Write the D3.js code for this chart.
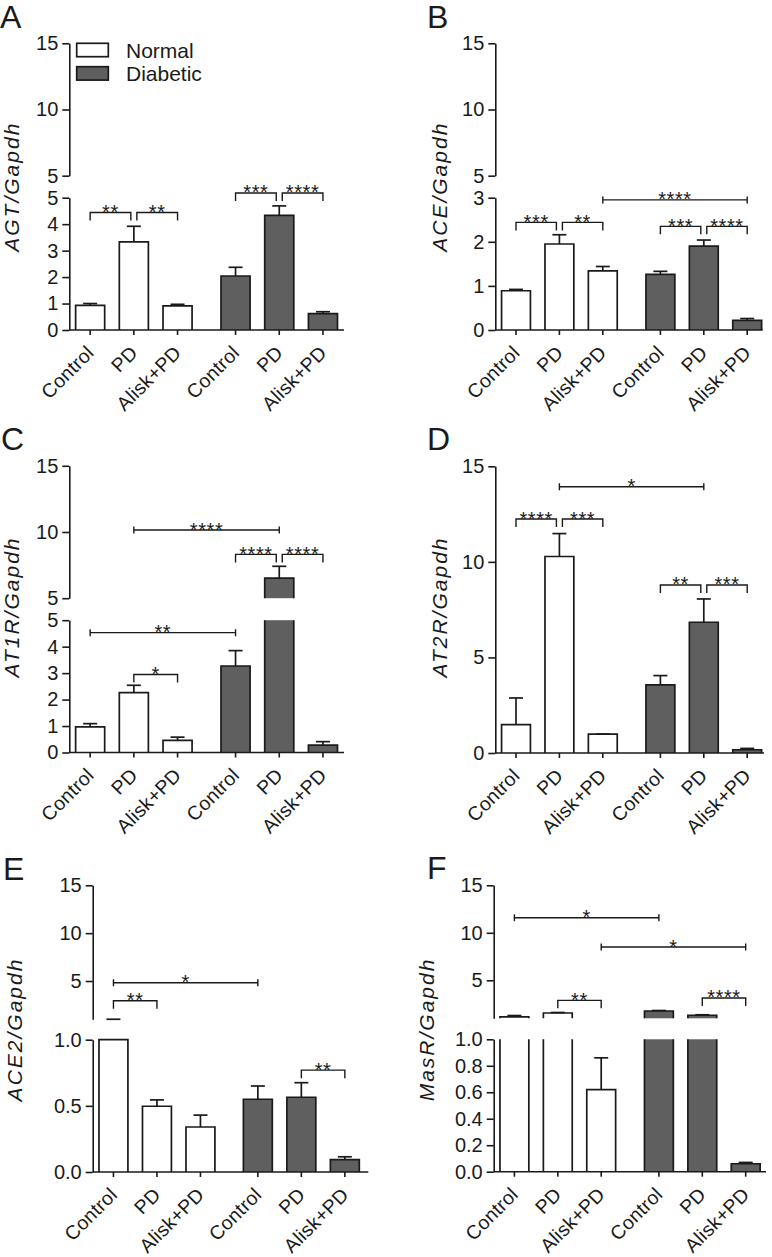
<!DOCTYPE html>
<html>
<head>
<meta charset="utf-8">
<script src="https://cdn.jsdelivr.net/npm/d3@7"></script>
<style>
  body { margin: 0; background: #fff; }
  text { font-family: Arial, "Liberation Sans", sans-serif; fill: #1a1a1a; }
</style>
</head>
<body>
<script>
const groups = ["Normal", "Diabetic"]
const treatments = ["Control", "PD", "Alisk+PD"]

// bar order: Normal Control, PD, Alisk+PD, Diabetic Control, PD, Alisk+PD
const agtMean = [0.93, 3.33, 0.91, 2.04, 4.33, 0.62]
const agtSem = [0.07, 0.59, 0.06, 0.33, 0.36, 0.07]
const aceMean = [0.89, 1.95, 1.34, 1.26, 1.90, 0.22]
const aceSem = [0.03, 0.21, 0.10, 0.07, 0.14, 0.04]
const at1rMean = [0.97, 2.26, 0.46, 3.27, 6.51, 0.28]
const at1rSem = [0.12, 0.28, 0.12, 0.58, 0.90, 0.13]
const at2rMean = [1.48, 10.28, 0.99, 3.56, 6.84, 0.17]
const at2rSem = [1.40, 1.20, 0, 0.49, 1.22, 0.07]
const ace2Mean = [1.0, 0.497, 0.34, 0.55, 0.565, 0.093]
const ace2Sem = [0.005, 0.048, 0.09, 0.10, 0.11, 0.022]
const masrMean = [1.14, 1.56, 0.62, 1.77, 1.32, 0.06]
const masrSem = [0.15, 0.05, 0.24, 0.05, 0.05, 0.01]

// y tick values: [lower segment, upper segment]
const agtTicks = [[0, 1, 2, 3, 4, 5], [5, 10, 15]]
const aceTicks = [[0, 1, 2, 3], [5, 10, 15]]
const at1rTicks = [[0, 1, 2, 3, 4, 5], [5, 10, 15]]
const at2rTicks = [[0, 5, 10, 15]]
const ace2Ticks = [[0, 0.5, 1.0], [5, 10, 15]]
const masrTicks = [[0, 0.2, 0.4, 0.6, 0.8, 1.0], [5, 10, 15]]

// significance: [from bar, to bar, label, y value, segment, kind]
const agtSig = [[0, 1, "**", 4.44, 0, "b"], [1, 2, "**", 4.44, 0, "b"],
                [3, 4, "***", 5.18, 0, "b"], [4, 5, "****", 5.18, 0, "b"]]
const aceSig = [[0, 1, "***", 2.44, 0, "b"], [1, 2, "**", 2.44, 0, "b"],
                [2, 5, "****", 2.95, 0, "l"],
                [3, 4, "***", 2.35, 0, "b"], [4, 5, "****", 2.35, 0, "b"]]
const at1rSig = [[1, 4, "****", 10.15, 1, "l"],
                 [3, 4, "****", 8.31, 1, "b"], [4, 5, "****", 8.31, 1, "b"],
                 [0, 3, "**", 4.53, 0, "l"], [1, 2, "*", 2.95, 0, "b"]]
const at2rSig = [[1, 4, "*", 13.93, 0, "l"],
                 [0, 1, "****", 12.24, 0, "b"], [1, 2, "***", 12.24, 0, "b"],
                 [3, 4, "**", 8.79, 0, "b"], [4, 5, "***", 8.79, 0, "b"]]
const ace2Sig = [[0, 3, "*", 4.82, 1, "l"], [0, 1, "**", 2.94, 1, "b"],
                 [4, 5, "**", 0.77, 0, "b"]]
const masrSig = [[0, 3, "*", 11.59, 1, "l"], [2, 5, "*", 8.5, 1, "l"],
                 [1, 2, "**", 2.89, 1, "b"], [4, 5, "****", 3.14, 1, "b"]]

const fills = { Normal: "#ffffff", Diabetic: "#5f5f5f" }
const ink = "#1a1a1a"

const panels = [
  { letter: "A", lpos: [0, 28], label: "AGT/Gapdh", lab: [19, 186.7],
    axisX: 69.3, step: 43.7, gap: 14.3, xEnd: 344,
    segs: [{ lo: 0, hi: 5, y0: 330, y1: 197.7 }, { lo: 5, hi: 15, y0: 175.7, y1: 43.3 }],
    mean: agtMean, sem: agtSem, ticks: agtTicks, fmt: ["d", "d"], sig: agtSig, legend: true },
  { letter: "B", lpos: [427, 28], label: "ACE/Gapdh", lab: [446.5, 186.7],
    axisX: 495.3, step: 43.4, gap: 14.2, xEnd: 762.7,
    segs: [{ lo: 0, hi: 3, y0: 330, y1: 197.7 }, { lo: 5, hi: 15, y0: 175.7, y1: 43.3 }],
    mean: aceMean, sem: aceSem, ticks: aceTicks, fmt: ["d", "d"], sig: aceSig },
  { letter: "C", lpos: [1, 450], label: "AT1R/Gapdh", lab: [19, 607],
    axisX: 69.3, step: 43.7, gap: 14.3, xEnd: 344,
    segs: [{ lo: 0, hi: 5, y0: 752.5, y1: 620.2 }, { lo: 5, hi: 15, y0: 598.2, y1: 465.8 }],
    mean: at1rMean, sem: at1rSem, ticks: at1rTicks, fmt: ["d", "d"], sig: at1rSig },
  { letter: "D", lpos: [427, 450], label: "AT2R/Gapdh", lab: [446.5, 607],
    axisX: 495.3, step: 43.4, gap: 14.2, xEnd: 764,
    segs: [{ lo: 0, hi: 15, y0: 753, y1: 466.3 }],
    mean: at2rMean, sem: at2rSem, ticks: at2rTicks, fmt: ["d"], sig: at2rSig },
  { letter: "E", lpos: [3, 880], label: "ACE2/Gapdh", lab: [21.5, 1029.5],
    axisX: 92.7, step: 43.5, gap: 13.9, xEnd: 368.3,
    segs: [{ lo: 0, hi: 1, y0: 1172, y1: 1039.7 }, { lo: 1, hi: 15, y0: 1019.3, y1: 885.3 }],
    mean: ace2Mean, sem: ace2Sem, ticks: ace2Ticks, fmt: [".1f", "d"], sig: ace2Sig },
  { letter: "F", lpos: [427, 879], label: "MasR/Gapdh", lab: [434, 1029.5],
    axisX: 493.7, step: 43.4, gap: 14.3, xEnd: 766,
    segs: [{ lo: 0, hi: 1, y0: 1171.7, y1: 1039.3 }, { lo: 1, hi: 15, y0: 1018.3, y1: 885.3 }],
    mean: masrMean, sem: masrSem, ticks: masrTicks, fmt: [".1f", "d"], sig: masrSig }
]

const svg = d3.select("body").append("svg")
    .attr("width", 772)
    .attr("height", 1257)

panels.forEach(p => drawPanel(p))

function drawPanel(p) {
    const g = svg.append("g")
    const segs = p.segs.map(s => Object.assign({}, s, {
        y: d3.scaleLinear().domain([s.lo, s.hi]).range([s.y0, s.y1])
    }))
    const bw = 3 * p.step
    const outer = d3.scaleBand()
        .domain(groups)
        .range([p.axisX - 1, p.axisX - 1 + 2 * bw + p.gap])
        .paddingInner(p.gap / (bw + p.gap))
        .paddingOuter(0)
    const inner = d3.scaleBand()
        .domain(treatments)
        .range([0, outer.bandwidth()])
        .paddingInner(0.335)
        .paddingOuter(0.1675)

    const bars = []
    groups.forEach((gr, gi) => treatments.forEach((t, ti) => {
        const k = gi * 3 + ti
        const x = outer(gr) + inner(t)
        bars.push({ gr, t, x, w: inner.bandwidth(), cx: x + inner.bandwidth() / 2,
                    v: p.mean[k], e: p.sem[k] })
    }))

    // bars, cut at the axis break
    bars.forEach(b => {
        segs.forEach((s, k) => {
            if (k > 0 && b.v <= s.lo) return
            const top = Math.min(b.v, s.hi)
            const yT = s.y(top), yB = s.y(s.lo)
            g.append("rect")
                .attr("x", b.x).attr("y", yT)
                .attr("width", b.w).attr("height", Math.max(0, yB - yT))
                .attr("fill", fills[b.gr])
            const path = `M${b.x},${yB}V${yT}` +
                (b.v <= s.hi ? `H${b.x + b.w}` : `M${b.x + b.w},${yT}`) + `V${yB}`
            g.append("path").attr("d", path)
                .attr("fill", "none").attr("stroke", ink).attr("stroke-width", 1.7)
        })
        // error bars (upper only)
        const hiV = b.v + b.e
        segs.forEach(s => {
            const a = Math.max(b.v, s.lo), c = Math.min(hiV, s.hi)
            if (c >= a && hiV >= s.lo && b.v <= s.hi) {
                g.append("line")
                    .attr("x1", b.cx).attr("x2", b.cx)
                    .attr("y1", s.y(a)).attr("y2", s.y(c))
                    .attr("stroke", ink).attr("stroke-width", 1.7)
            }
            if (hiV >= s.lo && hiV <= s.hi) {
                g.append("line")
                    .attr("x1", b.cx - 7).attr("x2", b.cx + 7)
                    .attr("y1", s.y(hiV)).attr("y2", s.y(hiV))
                    .attr("stroke", ink).attr("stroke-width", 1.7)
            }
        })
    })

    // y axes, one per segment
    segs.forEach((s, k) => {
        const ax = g.append("g")
            .attr("transform", `translate(${p.axisX}, 0)`)
            .call(d3.axisLeft(s.y)
                .tickValues(p.ticks[k])
                .tickFormat(d3.format(p.fmt[k]))
                .tickSize(7)
                .tickSizeOuter(0)
                .tickPadding(4))
        ax.selectAll("path, line").attr("stroke", ink).attr("stroke-width", 1.6)
        ax.selectAll("text").style("font-size", "20px").attr("fill", ink)
    })

    // x axis
    const yBase = segs[0].y0
    g.append("line")
        .attr("x1", p.axisX).attr("x2", p.xEnd)
        .attr("y1", yBase).attr("y2", yBase)
        .attr("stroke", ink).attr("stroke-width", 1.6)
    groups.forEach(gr => {
        const ax = g.append("g")
            .attr("transform", `translate(${outer(gr)}, ${yBase})`)
            .call(d3.axisBottom(inner).tickSize(5).tickSizeOuter(0))
        ax.select(".domain").remove()
        ax.selectAll("line").attr("stroke", ink).attr("stroke-width", 1.6)
        ax.selectAll("text")
            .attr("x", 0).attr("y", 0).attr("dy", 0)
            .attr("transform", "translate(5, 24) rotate(-45)")
            .attr("text-anchor", "end")
            .attr("fill", ink)
            .style("font-size", "19.5px")
            .style("letter-spacing", "0.3px")
    })

    // significance marks
    p.sig.forEach(([i, j, lab, v, sk, kind]) => {
        const y = segs[sk].y(v)
        let x1 = bars[i].cx, x2 = bars[j].cx
        if (kind === "b") {
            if (p.sig.some(o => o[5] === "b" && o[1] === i)) x1 += 3
            if (p.sig.some(o => o[5] === "b" && o[0] === j)) x2 -= 3
            g.append("path")
                .attr("d", `M${x1},${y + 8}V${y}H${x2}V${y + 8}`)
                .attr("fill", "none").attr("stroke", ink).attr("stroke-width", 1.4)
        } else {
            g.append("path")
                .attr("d", `M${x1},${y - 3.5}V${y + 3.5}M${x1},${y}H${x2}M${x2},${y - 3.5}V${y + 3.5}`)
                .attr("fill", "none").attr("stroke", ink).attr("stroke-width", 1.4)
        }
        g.append("text")
            .attr("x", (x1 + x2) / 2).attr("y", y + 6.5)
            .attr("text-anchor", "middle")
            .style("font-size", "20px")
            .style("letter-spacing", "0.6px")
            .text(lab)
    })

    // y label
    g.append("text")
        .attr("transform", `translate(${p.lab[0]}, ${p.lab[1]}) rotate(-90)`)
        .attr("text-anchor", "middle")
        .style("font-size", "21px")
        .style("font-style", "italic")
        .style("letter-spacing", "2px")
        .text(p.label)

    // panel letter
    g.append("text")
        .attr("x", p.lpos[0]).attr("y", p.lpos[1])
        .style("font-size", "32px")
        .text(p.letter)

    if (p.legend) {
        const lg = g.append("g")
        groups.forEach((gr, i) => {
            lg.append("rect")
                .attr("x", 76.7).attr("y", 43.3 + i * 23.4)
                .attr("width", 31.6).attr("height", 13.4)
                .attr("fill", fills[gr]).attr("stroke", ink).attr("stroke-width", 1.7)
            lg.append("text")
                .attr("x", 126).attr("y", 57.5 + i * 23.4)
                .style("font-size", "21px")
                .text(gr)
        })
    }
}
</script>
</body>
</html>
